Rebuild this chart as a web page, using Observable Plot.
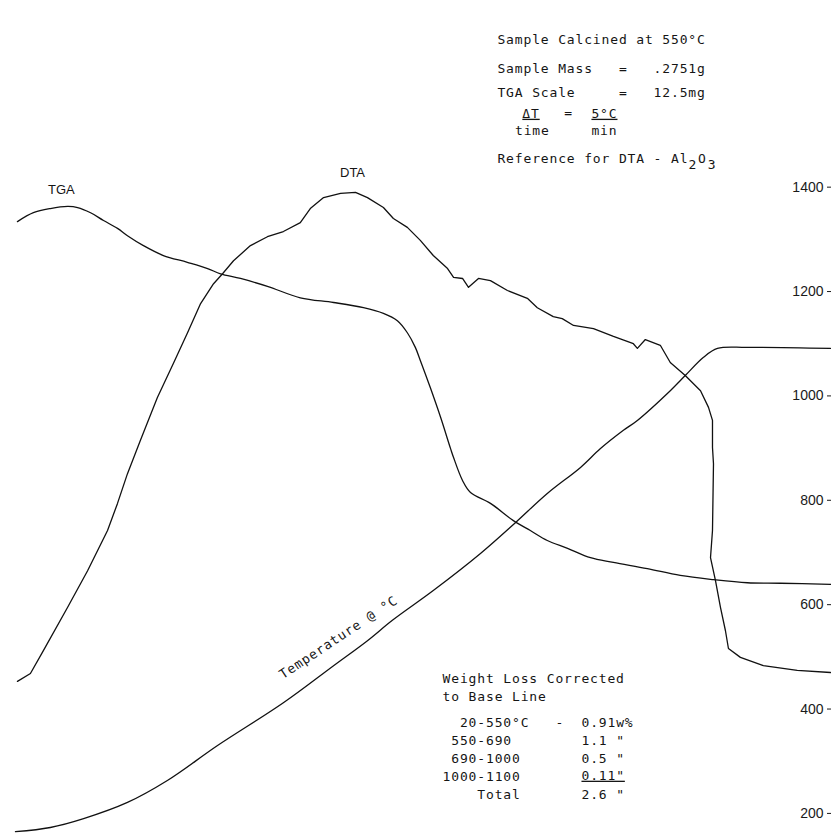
<!DOCTYPE html>
<html><head><meta charset="utf-8">
<script src="https://cdn.jsdelivr.net/npm/d3@7"></script>
<script src="https://cdn.jsdelivr.net/npm/@observablehq/plot@0.6"></script>
<style>
html,body{margin:0;padding:0;background:#fff;}
#chart svg{display:block;}
.mono text{letter-spacing:0.85px;}
.ul text{text-decoration:underline;}
</style></head><body><div id="chart"></div>
<script>
// time axis in minutes (5 °C/min), y in °C (right-hand scale of the recorder chart)
const yTicks = [200, 400, 600, 800, 1000, 1200, 1400];

const tgaTime = [5.1, 9.9, 15.0, 20.2, 23.2, 27.1, 31.0, 35.2, 38.2, 43.0, 49.0, 56.2, 62.3, 66.2, 72.2, 80.3, 90.2, 100.2, 109.2, 115.2, 119.4, 122.4, 124.8, 126.3, 129.3, 132.4, 135.4, 136.3, 139.0, 141.4, 147.4, 154.3, 159.4, 164.5, 170.6, 177.5, 184.4, 194.6, 204.5, 214.5, 224.7, 234.6, 249.7];
const tgaValue = [1334, 1351, 1359, 1363, 1361, 1351, 1336, 1321, 1307, 1288, 1269, 1256, 1244, 1234, 1225, 1210, 1188, 1179, 1169, 1158, 1144, 1121, 1093, 1068, 1016, 959, 899, 882, 838, 815, 794, 761, 742, 723, 708, 690, 681, 669, 656, 648, 642, 641, 639];

const dtaTime = [5.1, 9.0, 12.9, 20.2, 26.2, 32.2, 35.2, 38.2, 42.1, 47.2, 52.0, 56.2, 60.2, 64.1, 66.8, 70.1, 75.2, 80.3, 85.1, 90.2, 93.2, 97.2, 102.3, 106.8, 110.4, 115.2, 118.2, 122.4, 126.3, 130.2, 134.5, 136.3, 139.0, 140.8, 143.8, 147.4, 152.5, 158.5, 161.5, 166.3, 169.0, 172.4, 178.4, 184.4, 190.4, 191.6, 194.0, 198.5, 201.5, 206.0, 210.6, 213.0, 214.2, 214.2, 214.5, 214.2, 213.6, 215.1, 216.6, 218.1, 219.0, 222.6, 229.5, 239.7, 249.7];
const dtaValue = [453, 468, 512, 595, 665, 742, 794, 851, 915, 997, 1062, 1120, 1177, 1215, 1234, 1259, 1288, 1305, 1315, 1332, 1359, 1380, 1388, 1390, 1380, 1361, 1340, 1323, 1298, 1269, 1244, 1227, 1225, 1208, 1225, 1221, 1202, 1187, 1169, 1152, 1148, 1135, 1129, 1114, 1100, 1091, 1108, 1097, 1064, 1039, 1010, 978, 953, 901, 870, 742, 690, 646, 595, 550, 516, 499, 483, 474, 470];

const tempTime = [4.5, 15.0, 25.0, 38.2, 50.2, 65.3, 85.1, 100.2, 110.4, 117.9, 130.2, 144.4, 154.9, 164.5, 174.5, 180.5, 187.4, 191.6, 201.5, 206.0, 211.5, 215.7, 224.7, 249.7];
const tempValue = [165, 173, 190, 221, 263, 330, 412, 483, 531, 570, 627, 698, 757, 813, 863, 899, 934, 953, 1010, 1039, 1074, 1091, 1093, 1091];

const infoLines = ["Sample Calcined at 550°C", "Sample Mass   =   .2751g", "TGA Scale     =   12.5mg"];
const rateNum = ["ΔT", "5°C"];
const rateDen = ["time", "min"];
const referenceParts = ["Reference for DTA - Al", "2", "O", "3"];
const weightHeading = "Weight Loss Corrected\nto Base Line";
const weightRanges = ["  20-550°C   -", " 550-690", " 690-1000", "1000-1100", "    Total"];
const weightLoss = ["0.91w%", "1.1 \"", "0.5 \"", "0.11\"", "2.6 \""];

const toRows = (xs, ys) => xs.map((t, i) => ({t, v: ys[i]}));
const tga = toRows(tgaTime, tgaValue);
const dta = toRows(dtaTime, dtaValue);
const temp = toRows(tempTime, tempValue);
const rangeText = weightRanges.join("\n");
const lossText = weightLoss.map((s, i) => i === 3 ? "" : s).join("\n");

const mono = {fontFamily: "DejaVu Sans Mono", fontSize: 13, fill: "#151515", className: "mono"};
const monoUl = {...mono, className: "mono ul"};
const line = {x: "t", y: "v", stroke: "#111", strokeWidth: 1.3};
const cw = 8.68; // monospace advance incl. letter spacing

const chart = Plot.plot({
  width: 831, height: 839,
  marginLeft: 0, marginRight: 5, marginTop: 4, marginBottom: 0,
  style: {background: "#fff"},
  x: {domain: [0, 248.5], axis: null},
  y: {domain: [150, 1750], label: null},
  marks: [
    Plot.axisY(yTicks, {anchor: "right", tickSize: 5, tickPadding: -8, textAnchor: "end", tickFormat: d => String(d),
      fontFamily: "Liberation Sans", fontSize: 14, fill: "#1a1a1a", stroke: "#1a1a1a"}),
    Plot.line(tga, {...line, curve: "catmull-rom"}),
    Plot.line(dta, {...line, curve: "linear"}),
    Plot.line(temp, {...line, curve: "catmull-rom"}),
    Plot.text(["TGA"], {x: 18.3, y: 1395, fontFamily: "Liberation Sans", fontSize: 13, fill: "#151515"}),
    Plot.text(["DTA"], {x: 105.9, y: 1428, fontFamily: "Liberation Sans", fontSize: 13, fill: "#151515"}),
    Plot.text(["Temperature @ °C"], {...mono, x: 101.7, y: 537, rotate: -33.5}),
    Plot.text([infoLines[0]], {...mono, x: 149.5, y: 1683, textAnchor: "start"}),
    Plot.text([infoLines[1]], {...mono, x: 149.5, y: 1627, textAnchor: "start"}),
    Plot.text([infoLines[2]], {...mono, x: 149.5, y: 1581, textAnchor: "start"}),
    Plot.text([rateNum[0]], {...monoUl, x: 159.6, y: 1541}),
    Plot.text([rateDen[0]], {...mono, x: 160.0, y: 1508}),
    Plot.text(["="], {...mono, x: 170.9, y: 1543}),
    Plot.text([rateNum[1]], {...monoUl, x: 181.7, y: 1541}),
    Plot.text([rateDen[1]], {...mono, x: 181.7, y: 1508}),
    Plot.text([referenceParts[0]], {...mono, x: 149.5, y: 1455, textAnchor: "start"}),
    Plot.text([referenceParts[1]], {...mono, x: 149.5, y: 1455, dx: 22 * cw, dy: 6, textAnchor: "start"}),
    Plot.text([referenceParts[2]], {...mono, x: 149.5, y: 1455, dx: 23 * cw + 1, textAnchor: "start"}),
    Plot.text([referenceParts[3]], {...mono, x: 149.5, y: 1455, dx: 24 * cw + 2, dy: 6, textAnchor: "start"}),
    Plot.text([weightHeading], {...mono, x: 133.0, y: 443, textAnchor: "start", lineHeight: 1.385}),
    Plot.text([rangeText], {...mono, x: 133.0, y: 307, textAnchor: "start", lineHeight: 1.385}),
    Plot.text([lossText], {...mono, x: 133.0, y: 307, dx: 16 * cw, textAnchor: "start", lineHeight: 1.385}),
    Plot.text([weightLoss[3]], {...monoUl, x: 133.0, y: 272.6, dx: 16 * cw, textAnchor: "start"})
  ]
});
document.getElementById("chart").append(chart);
</script></body></html>
